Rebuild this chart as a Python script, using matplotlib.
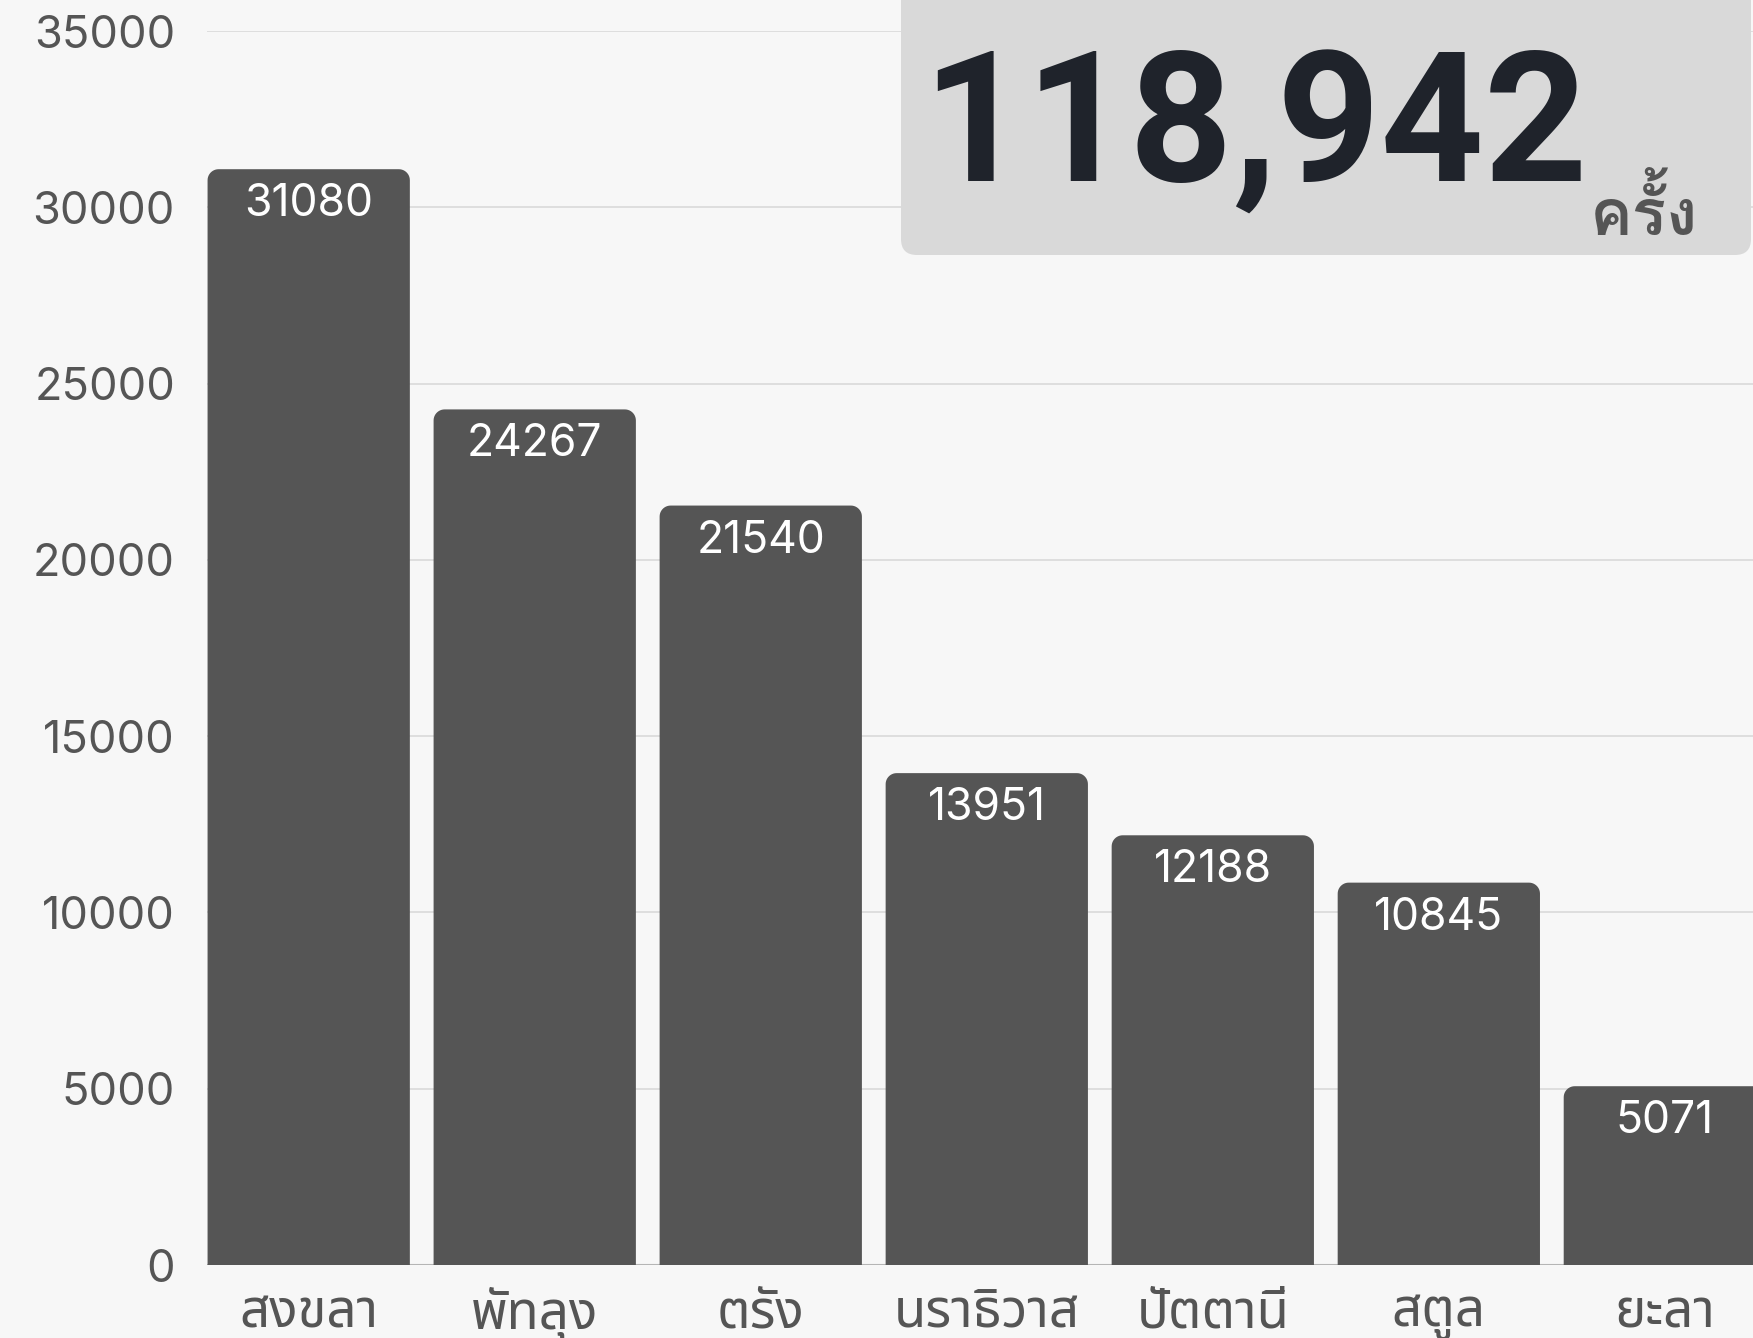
import matplotlib
matplotlib.use('Agg')
import numpy as np
import matplotlib.pyplot as plt
from matplotlib import font_manager
from matplotlib.ft2font import FT2Font
from matplotlib.font_manager import FontProperties
from matplotlib.patches import FancyBboxPatch, PathPatch
from matplotlib.path import Path
from matplotlib.transforms import IdentityTransform

provinces = ['สงขลา', 'พัทลุง', 'ตรัง', 'นราธิวาส', 'ปัตตานี', 'สตูล', 'ยะลา']
counts = [31080, 24267, 21540, 13951, 12188, 10845, 5071]
yticks = [0, 5000, 10000, 15000, 20000, 25000, 30000, 35000]
total_label = '118,942'
unit_label = 'ครั้ง'


def thai_fonts():
    found = []
    for f in font_manager.fontManager.ttflist:
        try:
            ft = FT2Font(f.fname)
            if ft.get_char_index(0x0E2A) and ft.get_char_index(0x0E07):
                found.append(f)
        except Exception:
            pass
    return found


tf = thai_fonts()
names = sorted(set(f.name for f in tf))
thai_family = 'DejaVu Sans'
for pref in ['Noto Sans Thai', 'Noto Sans Thai UI', 'Sarabun', 'Loma', 'Garuda', 'Tlwg Typo', 'Kinnari']:
    if pref in names:
        thai_family = pref
        break
else:
    if names:
        thai_family = names[0]


def wnum(w):
    if isinstance(w, int):
        return w
    return {'bold': 700, 'normal': 400, 'regular': 400, 'medium': 500,
            'semibold': 600, 'heavy': 800, 'black': 900}.get(str(w).lower(), 400)


bold_fp = FontProperties(family=[thai_family, 'DejaVu Sans'], weight='bold', size=46)
cands = [f for f in tf if f.name == thai_family and wnum(f.weight) >= 700 and f.style == 'normal']
if not cands:
    cands = [f for f in tf if wnum(f.weight) >= 700 and f.style == 'normal']
if cands:
    cands.sort(key=lambda f: abs(wnum(f.weight) - 700))
    bold_fp = FontProperties(fname=cands[0].fname, size=46)

W, H = 1753, 1338
fig = plt.figure(figsize=(W / 100, H / 100), dpi=100)
fig.patch.set_facecolor('#f7f7f7')

ax_left = 207 / W
ax_bottom = (H - 1265) / H
ax_top = (H - 31) / H
ax = fig.add_axes([ax_left, ax_bottom, 1 - ax_left, ax_top - ax_bottom])
ax.set_facecolor('#f7f7f7')

xlim = (-0.45, 6.39)
ylim = (0, 35000)
ax.set_xlim(*xlim)
ax.set_ylim(*ylim)

for s in ax.spines.values():
    s.set_visible(False)
ax.set_yticks(yticks)
ax.set_yticklabels([str(t) for t in yticks])
ax.yaxis.grid(True, color='#dcdcdc', linewidth=1.3)
ax.set_axisbelow(True)
ax.tick_params(axis='y', length=0, pad=23, labelsize=32.5, labelcolor='#555555')
for lab in ax.get_yticklabels():
    lab.set_family(['Inter', 'DejaVu Sans'])

x = np.arange(len(provinces))
ax.set_xticks(x)
ax.set_xticklabels(provinces)
ax.tick_params(axis='x', length=0, pad=16, labelsize=38, labelcolor='#555555')
for lab in ax.get_xticklabels():
    lab.set_family([thai_family, 'DejaVu Sans'])

ax.axhline(0, color='#b5b5b5', linewidth=1.5, zorder=1)

# pixel -> data scale
ax_w_px = (1 - ax_left) * W
ax_h_px = (ax_top - ax_bottom) * H
xu = (xlim[1] - xlim[0]) / ax_w_px
yu = (ylim[1] - ylim[0]) / ax_h_px
bw = 0.895
r = 11
rx, ry = r * xu, r * yu
th = np.linspace(0, np.pi / 2, 12)
for xi, v in zip(x, counts):
    x0, x1 = xi - bw / 2, xi + bw / 2
    verts = [(x0, 0), (x1, 0), (x1, v - ry)]
    verts += [(x1 - rx + rx * np.cos(t), v - ry + ry * np.sin(t)) for t in th]
    verts += [(x0 + rx - rx * np.sin(t), v - ry + ry * np.cos(t)) for t in th]
    verts += [(x0, 0)]
    codes = [Path.MOVETO] + [Path.LINETO] * (len(verts) - 2) + [Path.CLOSEPOLY]
    ax.add_patch(PathPatch(Path(verts, codes), facecolor='#555555', edgecolor='none', zorder=2))
    ax.annotate(str(v), xy=(xi, v), xytext=(0, -14), textcoords='offset pixels',
                ha='center', va='top', color='white', fontsize=32,
                family=['Inter', 'DejaVu Sans'], zorder=3)

# total box (figure pixel coordinates)
box = FancyBboxPatch((901, H - 255), W - 901 - 2, 300,
                     boxstyle='round,pad=0,rounding_size=16',
                     facecolor='#d9d9d9', edgecolor='none',
                     transform=IdentityTransform(), zorder=5)
fig.patches.append(box)
box.set_figure(fig)

fig.text(922 / W, (H - 182) / H, total_label, ha='left', va='baseline',
         fontsize=130, fontweight='bold', color='#1f232b',
         family=['Roboto', 'DejaVu Sans'], zorder=6)
fig.text(1698 / W, (H - 235) / H, unit_label, ha='right', va='baseline',
         fontproperties=bold_fp, color='#555555', zorder=6)

fig.savefig('out.png', dpi=100, facecolor=fig.get_facecolor())
